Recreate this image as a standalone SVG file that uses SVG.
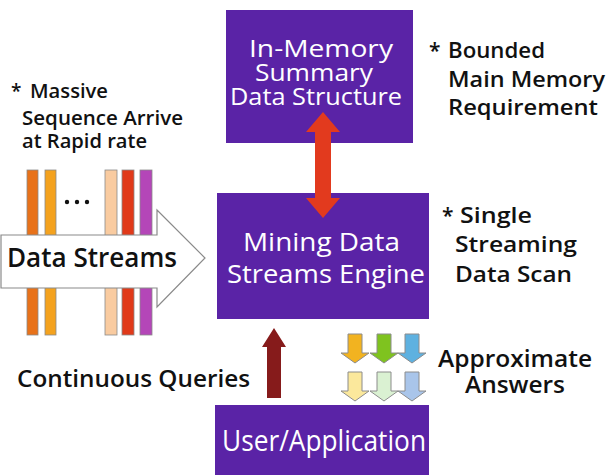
<svg xmlns="http://www.w3.org/2000/svg" width="612" height="475" viewBox="0 0 612 475">
  <style>
    .box { fill: #5a23a6; }
    .wt { fill: #ffffff; font-family: "Open Sans", "Liberation Sans", sans-serif; }
    .bk { fill: #111111; font-family: "Open Sans", "Liberation Sans", sans-serif; font-weight: 600; }
    .bar { stroke: #8a8a8a; stroke-width: 0.8; }
    .ans { stroke: #8c8c8c; stroke-width: 1; stroke-linejoin: round; }
  </style>
  <defs>
    <path id="down" d="M-7,0 H7 V19 H14 L0,29 L-14,19 H-7 Z"/>
  </defs>
  <rect width="612" height="475" fill="#ffffff"/>

  <!-- incoming streams: coloured bars behind the big arrow -->
  <g id="streams">
    <rect class="bar" x="27" y="170" width="11" height="165" fill="#e8721a"/>
    <rect class="bar" x="45" y="170" width="11" height="165" fill="#f4a21e"/>
    <rect class="bar" x="105" y="170" width="12" height="165" fill="#f9cba0"/>
    <rect class="bar" x="122" y="170" width="12" height="165" fill="#e03a1a"/>
    <rect class="bar" x="140" y="170" width="12" height="165" fill="#b446b8"/>
    <circle cx="67" cy="202" r="2.2" fill="#111"/>
    <circle cx="77" cy="202" r="2.2" fill="#111"/>
    <circle cx="87" cy="202" r="2.2" fill="#111"/>
    <path d="M1,235 H157 V210 L205,258 L157,307 V288 H1 Z" fill="#ffffff" stroke="#8a8a8a" stroke-width="1.2"/>
    <text class="bk" x="7" y="267" font-size="27" font-weight="400" textLength="170" lengthAdjust="spacingAndGlyphs">Data Streams</text>
  </g>

  <g id="summary">
    <rect class="box" x="226" y="10" width="187" height="133"/>
    <text class="wt" x="249" y="57" font-size="23" textLength="144" lengthAdjust="spacingAndGlyphs">In-Memory</text>
    <text class="wt" x="255" y="81" font-size="23" textLength="118" lengthAdjust="spacingAndGlyphs">Summary</text>
    <text class="wt" x="230" y="105" font-size="23" textLength="172" lengthAdjust="spacingAndGlyphs">Data Structure</text>
  </g>

  <g id="engine">
    <rect class="box" x="217" y="193" width="212" height="126"/>
    <text class="wt" x="243" y="251" font-size="25" textLength="157" lengthAdjust="spacingAndGlyphs">Mining Data</text>
    <text class="wt" x="227" y="283" font-size="25" textLength="198" lengthAdjust="spacingAndGlyphs">Streams Engine</text>
  </g>

  <g id="user">
    <rect class="box" x="215" y="405" width="214" height="70"/>
    <text class="wt" x="222" y="451" font-size="29" textLength="204" lengthAdjust="spacingAndGlyphs">User/Application</text>
  </g>

  <!-- connectors -->
  <g id="connectors">
    <path d="M323,112 L340,132 H331 V198 H340 L323,218 L306,198 H315 V132 H306 Z" fill="#e23a1e"/>
    <path d="M274,328 L286,347 H281 V398 H267 V347 H262 Z" fill="#861b1b"/>
    <g id="answers">
      <use href="#down" x="355" y="334" class="ans" fill="#f2b320"/>
      <use href="#down" x="384" y="334" class="ans" fill="#7fc31f"/>
      <use href="#down" x="412" y="334" class="ans" fill="#5eb1e0"/>
      <use href="#down" x="355" y="372" class="ans" fill="#fbe89c"/>
      <use href="#down" x="384" y="372" class="ans" fill="#daf1d2"/>
      <use href="#down" x="412" y="372" class="ans" fill="#a9c5ea"/>
    </g>
  </g>

  <g id="notes">
    <text class="bk" font-size="19" x="11" y="98">*</text>
    <text class="bk" font-size="19" x="30" y="98" textLength="78" lengthAdjust="spacingAndGlyphs">Massive</text>
    <text class="bk" font-size="19" x="22" y="125" textLength="161" lengthAdjust="spacingAndGlyphs">Sequence Arrive</text>
    <text class="bk" font-size="19" x="22" y="148" textLength="125" lengthAdjust="spacingAndGlyphs">at Rapid rate</text>

    <text class="bk" font-size="21" x="429" y="58">*</text>
    <text class="bk" font-size="21" x="448" y="58" textLength="97" lengthAdjust="spacingAndGlyphs">Bounded</text>
    <text class="bk" font-size="21" x="448" y="87" textLength="157" lengthAdjust="spacingAndGlyphs">Main Memory</text>
    <text class="bk" font-size="21" x="448" y="115" textLength="150" lengthAdjust="spacingAndGlyphs">Requirement</text>

    <text class="bk" font-size="21" x="442" y="223">*</text>
    <text class="bk" font-size="21" x="460" y="223" textLength="72" lengthAdjust="spacingAndGlyphs">Single</text>
    <text class="bk" font-size="21" x="455" y="252" textLength="122" lengthAdjust="spacingAndGlyphs">Streaming</text>
    <text class="bk" font-size="21" x="455" y="282" textLength="117" lengthAdjust="spacingAndGlyphs">Data Scan</text>

    <text class="bk" font-size="23" x="17" y="387" textLength="233" lengthAdjust="spacingAndGlyphs">Continuous Queries</text>

    <text class="bk" font-size="24" x="438" y="367" textLength="154" lengthAdjust="spacingAndGlyphs">Approximate</text>
    <text class="bk" font-size="24" x="465" y="393" textLength="100" lengthAdjust="spacingAndGlyphs">Answers</text>
  </g>
</svg>
